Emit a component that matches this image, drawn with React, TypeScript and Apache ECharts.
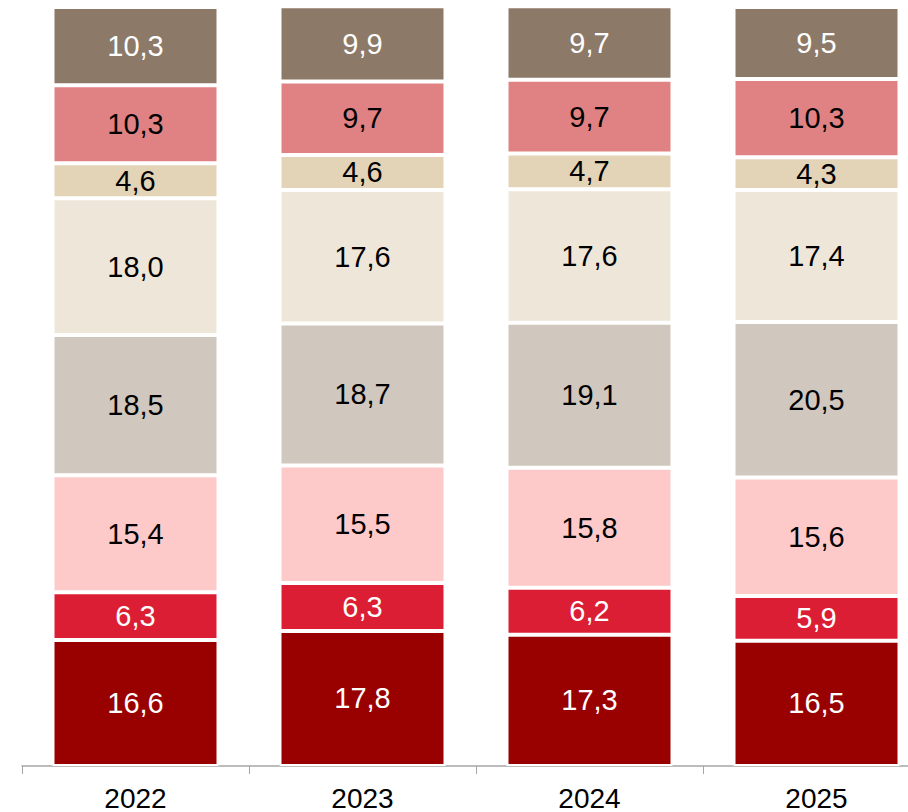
import React, { useEffect, useRef } from "react";
import * as echarts from "echarts";

const categories = ["2022", "2023", "2024", "2025"];

const seriesNames = ["s1", "s2", "s3", "s4", "s5", "s6", "s7", "s8"];
const s1 = [16.6, 17.8, 17.3, 16.5];
const s2 = [6.3, 6.3, 6.2, 5.9];
const s3 = [15.4, 15.5, 15.8, 15.6];
const s4 = [18.5, 18.7, 19.1, 20.5];
const s5 = [18.0, 17.6, 17.6, 17.4];
const s6 = [4.6, 4.6, 4.7, 4.3];
const s7 = [10.3, 9.7, 9.7, 10.3];
const s8 = [10.3, 9.9, 9.7, 9.5];
const seriesData = [s1, s2, s3, s4, s5, s6, s7, s8];

const colors = ["#990000", "#DC1E34", "#FDC9C9", "#D0C7BE", "#EFE6DA", "#E3D3B7", "#E08283", "#8C7967"];
const labelColors = ["#FFFFFF", "#FFFFFF", "#000000", "#000000", "#000000", "#000000", "#000000", "#FFFFFF"];

export default function App() {
  const ref = useRef<HTMLDivElement>(null);
  useEffect(() => {
    if (!ref.current) return;
    const chart = echarts.init(ref.current, null, { renderer: "svg" });
    chart.setOption({
      animation: false,
      grid: { left: 22, right: 0, top: 7, bottom: 42, containLabel: false },
      xAxis: {
        type: "category",
        data: categories,
        axisLine: { show: true, lineStyle: { color: "#A6A6A6", width: 1.5 } },
        axisTick: { show: true, length: 8, alignWithLabel: false, lineStyle: { color: "#A6A6A6" } },
        axisLabel: { color: "#000000", fontSize: 28, fontFamily: "Liberation Sans, Arial, sans-serif", margin: 18 },
      },
      yAxis: { type: "value", min: 0, max: 100, show: false, splitLine: { show: false } },
      series: seriesData.map((d, i) => ({
        name: seriesNames[i],
        type: "bar",
        stack: "total",
        data: d,
        barWidth: 166,
        itemStyle: { color: colors[i], borderColor: "#FFFFFF", borderWidth: 2 },
        label: {
          show: true,
          position: "inside",
          color: labelColors[i],
          fontSize: 29,
          fontFamily: "Liberation Sans, Arial, sans-serif",
          formatter: (p: any) => p.value.toFixed(1).replace(".", ","),
        },
      })),
    });
    return () => chart.dispose();
  }, []);
  return (
    <div style={{ position: "absolute", left: 0, top: 0, width: 908, height: 812, overflow: "hidden" }}>
      <div ref={ref} style={{ position: "absolute", left: 0, top: 0, width: 930, height: 812 }} />
    </div>
  );
}
